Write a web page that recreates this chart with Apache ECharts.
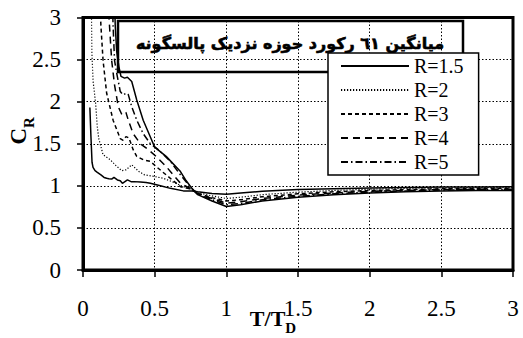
<!DOCTYPE html>
<html>
<head>
<meta charset="utf-8">
<script src="https://cdn.jsdelivr.net/npm/echarts@6/dist/echarts.min.js"></script>
<style>
  html, body { margin: 0; padding: 0; background: #fff; }
  #chart { width: 523px; height: 338px; }
</style>
</head>
<body>
<div id="chart"></div>
<script>
// Mean strength-reduction ratio C_R against normalised period T/Tp
const chartTitle = 'میانگین ٦١ رکورد حوزه نزدیک پالسگونه';
const xTicks = [0, 0.5, 1, 1.5, 2, 2.5, 3];
const yTicks = [0, 0.5, 1, 1.5, 2, 2.5, 3];

// shared long-period abscissae
const tailT = [0.8, 0.9, 1.0, 1.1, 1.25, 1.5, 1.75, 2.0, 2.25, 2.5, 2.75, 3.0];

const r15T = [0.048, 0.055, 0.063, 0.07, 0.084, 0.10, 0.125, 0.147, 0.165, 0.18, 0.20, 0.216, 0.24, 0.26, 0.275, 0.31, 0.335, 0.356, 0.40, 0.44, 0.47, 0.54, 0.61, 0.70, 0.76];
const r15C = [1.93, 1.60, 1.28, 1.22, 1.18, 1.16, 1.13, 1.10, 1.09, 1.085, 1.08, 1.10, 1.07, 1.06, 1.03, 1.07, 1.05, 1.05, 1.045, 1.04, 1.03, 1.00, 0.97, 0.94, 0.94];
const r15Tail = [0.93, 0.91, 0.90, 0.915, 0.935, 0.955, 0.965, 0.975, 0.98, 0.985, 0.985, 0.99];

const r2T = [0.058, 0.062, 0.07, 0.088, 0.10, 0.11, 0.14, 0.19, 0.23, 0.27, 0.30, 0.34, 0.39, 0.43, 0.50, 0.56, 0.635, 0.70, 0.76];
const r2C = [3.2, 2.6, 2.25, 1.98, 1.70, 1.56, 1.37, 1.31, 1.24, 1.18, 1.19, 1.25, 1.17, 1.13, 1.11, 1.09, 1.04, 0.99, 0.955];
const r2Tail = [0.92, 0.88, 0.85, 0.865, 0.895, 0.925, 0.945, 0.96, 0.97, 0.975, 0.98, 0.98];

const r3T = [0.118, 0.125, 0.14, 0.165, 0.21, 0.26, 0.28, 0.30, 0.32, 0.35, 0.375, 0.42, 0.47, 0.51, 0.58, 0.68, 0.76];
const r3C = [3.2, 2.9, 2.49, 2.10, 1.78, 1.56, 1.54, 1.585, 1.57, 1.43, 1.35, 1.31, 1.29, 1.23, 1.13, 0.99, 0.96];
const r3Tail = [0.91, 0.86, 0.82, 0.835, 0.87, 0.905, 0.93, 0.945, 0.955, 0.965, 0.97, 0.97];

const r4T = [0.175, 0.185, 0.20, 0.22, 0.246, 0.27, 0.29, 0.30, 0.316, 0.35, 0.40, 0.456, 0.51, 0.58, 0.68, 0.76];
const r4C = [3.2, 2.9, 2.49, 2.2, 1.94, 1.85, 1.88, 1.87, 1.78, 1.62, 1.50, 1.43, 1.35, 1.23, 1.03, 0.96];
const r4Tail = [0.905, 0.85, 0.795, 0.81, 0.85, 0.89, 0.915, 0.935, 0.945, 0.955, 0.96, 0.96];

const r5T = [0.205, 0.21, 0.22, 0.235, 0.26, 0.28, 0.30, 0.315, 0.34, 0.375, 0.42, 0.47, 0.525, 0.61, 0.68, 0.76];
const r5C = [3.2, 2.9, 2.49, 2.34, 2.12, 2.08, 2.10, 2.09, 1.94, 1.78, 1.62, 1.50, 1.43, 1.29, 1.13, 0.965];
const r5Tail = [0.90, 0.835, 0.775, 0.79, 0.835, 0.875, 0.905, 0.925, 0.94, 0.95, 0.955, 0.955];

const r6T = [0.22, 0.225, 0.235, 0.25, 0.265, 0.29, 0.31, 0.34, 0.375, 0.42, 0.47, 0.50, 0.58, 0.68, 0.72, 0.76];
const r6C = [3.2, 2.9, 2.6, 2.42, 2.30, 2.28, 2.29, 2.24, 2.02, 1.78, 1.58, 1.46, 1.35, 1.17, 1.06, 0.97];
const r6Tail = [0.895, 0.82, 0.755, 0.775, 0.82, 0.865, 0.895, 0.915, 0.93, 0.94, 0.945, 0.945];

const legendNames = ['R=1.5', 'R=2', 'R=3', 'R=4', 'R=5'];

function pairs(t, c, tail) {
  const xs = t.concat(tailT);
  const ys = c.concat(tail);
  return xs.map((x, i) => [x, ys[i]]);
}

function curve(name, t, c, tail, type, width) {
  return {
    name: name,
    type: 'line',
    data: pairs(t, c, tail),
    symbol: 'none',
    clip: true,
    z: 3,
    itemStyle: { color: '#000', opacity: 0 },
    lineStyle: { color: '#000', width: width, type: type },
    emphasis: { disabled: true }
  };
}

const serif = 'Liberation Serif';
const chart = echarts.init(document.getElementById('chart'), null, { renderer: 'svg' });

chart.setOption({
  animation: false,
  backgroundColor: '#fff',
  grid: {
    left: 83, right: 10, top: 17.5, bottom: 68,
    containLabel: false,
    outerBoundsMode: 'none',
    show: true, borderColor: '#000', borderWidth: 3, backgroundColor: 'transparent'
  },
  xAxis: {
    type: 'value', min: 0, max: 3, interval: 0.5,
    name: '{t|T/T}{s|D}',
    nameLocation: 'middle', nameGap: 43, nameMoveOverlap: false,
    nameTextStyle: {
      padding: [0, 50, 0, 0],
      rich: {
        t: { fontFamily: serif, fontWeight: 'bold', fontSize: 22, lineHeight: 22, padding: [0, 0, 6, 0], verticalAlign: 'bottom', color: '#000' },
        s: { fontFamily: serif, fontWeight: 'bold', fontSize: 15, lineHeight: 15, verticalAlign: 'bottom', color: '#000' }
      }
    },
    axisLine: { show: true, onZero: false, lineStyle: { color: '#000', width: 3 } },
    axisTick: { show: true, inside: false, length: 7, lineStyle: { color: '#000', width: 1.5 } },
    axisLabel: {
      margin: 27, fontFamily: serif, fontSize: 23, color: '#000',
      formatter: v => (xTicks.indexOf(v) >= 0 ? String(v) : '')
    },
    splitLine: { show: true, lineStyle: { color: '#000', width: 1, type: [1.5, 2] } }
  },
  yAxis: {
    type: 'value', min: 0, max: 3, interval: 0.5,
    name: '{c|C}{s|R}',
    nameLocation: 'middle', nameGap: 47, nameRotate: 90, nameMoveOverlap: false,
    nameTextStyle: {
      padding: [0, 0, 0, 26],
      rich: {
        c: { fontFamily: serif, fontWeight: 'bold', fontSize: 23, lineHeight: 23, padding: [0, 0, 6, 0], verticalAlign: 'bottom', color: '#000' },
        s: { fontFamily: serif, fontWeight: 'bold', fontSize: 15, lineHeight: 15, verticalAlign: 'bottom', color: '#000' }
      }
    },
    axisLine: { show: true, onZero: false, lineStyle: { color: '#000', width: 3 } },
    axisTick: { show: true, inside: false, length: 6, lineStyle: { color: '#000', width: 1.5 } },
    axisLabel: {
      margin: 22, fontFamily: serif, fontSize: 23, color: '#000',
      formatter: v => (yTicks.indexOf(v) >= 0 ? String(v) : '')
    },
    splitLine: { show: true, lineStyle: { color: '#000', width: 1, type: [1.5, 2] } }
  },
  legend: {
    data: legendNames,
    orient: 'vertical',
    left: 328, top: 53,
    padding: [3, 15, 3, 12],
    itemGap: 4,
    itemWidth: 68, itemHeight: 14,
    backgroundColor: '#fff',
    borderColor: '#000', borderWidth: 1.5, borderRadius: 0,
    selectedMode: false,
    itemStyle: { opacity: 0 },
    z: 20,
    textStyle: { fontFamily: serif, fontSize: 20, lineHeight: 20, color: '#000' }
  },
  graphic: [
    {
      type: 'group', z: 10,
      children: [
        {
          type: 'rect',
          shape: { x: 118, y: 21, width: 345, height: 51 },
          style: { fill: '#fff', stroke: '#000', lineWidth: 2.5 }
        },
        {
          type: 'text',
          x: 290, y: 43,
          style: {
            text: chartTitle,
            fontFamily: 'DejaVu Sans',
            fontWeight: 'bold',
            fontSize: 16,
            fill: '#000', stroke: '#000', lineWidth: 0.6,
            align: 'center', verticalAlign: 'middle'
          }
        }
      ]
    }
  ],
  series: [
    curve('R=1.5', r15T, r15C, r15Tail, 'solid', 1.5),
    curve('R=2', r2T, r2C, r2Tail, [1.2, 1.8], 1.2),
    curve('R=3', r3T, r3C, r3Tail, [4, 3], 1.5),
    curve('R=4', r4T, r4C, r4Tail, [7, 5], 1.5),
    curve('R=5', r5T, r5C, r5Tail, [7, 3, 1.5, 3], 1.5),
    curve('R=6', r6T, r6C, r6Tail, 'solid', 1.5)
  ]
});
</script>
</body>
</html>
